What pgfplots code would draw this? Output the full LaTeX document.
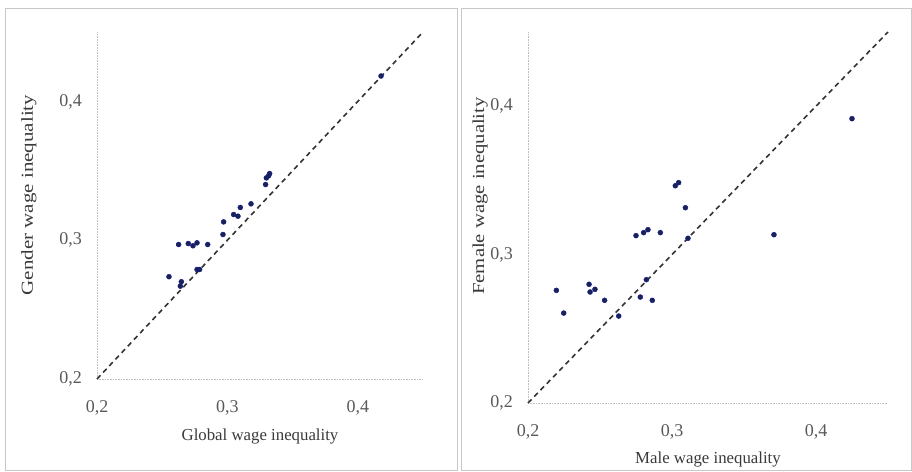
\documentclass[border=0pt]{standalone}
\usepackage{fontspec}
\setmainfont{Liberation Serif}
\usepackage{graphicx}
\usepackage{pgfplots}
\pgfplotsset{compat=1.18}

\definecolor{dotc}{HTML}{1B2450}
\definecolor{tickc}{HTML}{595959}
\definecolor{labc}{HTML}{3A3A3A}
\definecolor{framec}{HTML}{C8C8C8}
\definecolor{axc}{HTML}{BDBDBD}

\pgfplotsset{
  panel/.style={
    scale only axis,
    xmin=0.2, xmax=0.45, ymin=0.2, ymax=0.45,
    axis x line*=bottom, axis y line*=left,
    axis line style={-, draw=axc, line width=1pt, dash pattern=on 1pt off 0.6pt},
    xtick={0.2,0.3,0.4}, ytick={0.2,0.3,0.4},
    xticklabels={{0,2},{0,3},{0,4}},
    yticklabels={{0,2},{0,3},{0,4}},
    major tick length=0pt,
    tick label style={font=\fontsize{18}{20}\selectfont, text=tickc, inner sep=0pt},
    xticklabel style={anchor=north, yshift=-21pt},
    yticklabel style={anchor=east, xshift=-15pt},
    label style={font=\fontsize{16.8}{18}\selectfont, text=labc},
    xlabel style={anchor=center},
    ylabel style={anchor=center, rotate=0},
    clip=false,
  },
  diag/.style={draw=black!80, line width=1.6pt, dash pattern=on 5pt off 4pt},
  dots/.style={only marks, mark=*, mark size=2.5pt,
    mark options={fill=dotc, draw=dotc!60!blue, line width=0.4pt}},
}

\begin{document}
\begin{tikzpicture}
\path[use as bounding box] (0pt,0pt) rectangle (912pt,-471pt);
\draw[framec, line width=1pt] (5pt,-8pt) rectangle (457pt,-470pt);
\draw[framec, line width=1pt] (461pt,-8pt) rectangle (911.5pt,-470pt);

% left panel: global vs gender
\begin{axis}[panel,
  at={(97pt,-379pt)}, anchor=origin,
  width=326pt, height=347pt,
  xlabel={Global wage inequality},
  ylabel={\scalebox{1.25}[1]{Gender wage inequality}},
  xlabel style={at={(axis description cs:0.5,-0.167)}},
  ylabel style={at={(axis description cs:-0.209,0.53)}},
]
\addplot[diag] coordinates {(0.2,0.2) (0.45,0.45)};
\addplot[dots] coordinates {
  (0.2552,0.2737) (0.2626,0.2969) (0.2639,0.2669) (0.2647,0.2701)
  (0.2700,0.2976) (0.2736,0.2960) (0.2767,0.2981) (0.2767,0.2789)
  (0.2787,0.2789) (0.2849,0.2969) (0.2966,0.3041) (0.2971,0.3132)
  (0.3048,0.3185) (0.3081,0.3173) (0.3099,0.3236) (0.3181,0.3262)
  (0.3293,0.3401) (0.3299,0.3449) (0.3316,0.3464) (0.3324,0.3480)
  (0.4178,0.4183)
};
\end{axis}

% right panel: male vs female
\begin{axis}[panel,
  at={(528pt,-403pt)}, anchor=origin,
  width=360pt, height=371pt,
  xlabel={Male wage inequality},
  ylabel={\scalebox{1.23}[1]{Female wage inequality}},
  xlabel style={at={(axis description cs:0.5,-0.151)}},
  ylabel style={at={(axis description cs:-0.133,0.558)}},
]
\addplot[diag] coordinates {(0.2,0.2) (0.45,0.45)};
\addplot[dots] coordinates {
  (0.2197,0.2759) (0.2248,0.2606) (0.2424,0.2800) (0.2431,0.2748)
  (0.2465,0.2766) (0.2532,0.2692) (0.2630,0.2586) (0.2750,0.3128)
  (0.2780,0.2714) (0.2803,0.3148) (0.2833,0.3168) (0.2822,0.2831)
  (0.2863,0.2692) (0.2919,0.3148) (0.3023,0.3464) (0.3046,0.3485)
  (0.3093,0.3316) (0.3111,0.3110) (0.3708,0.3134) (0.4250,0.3916)
};
\end{axis}
\end{tikzpicture}
\end{document}
